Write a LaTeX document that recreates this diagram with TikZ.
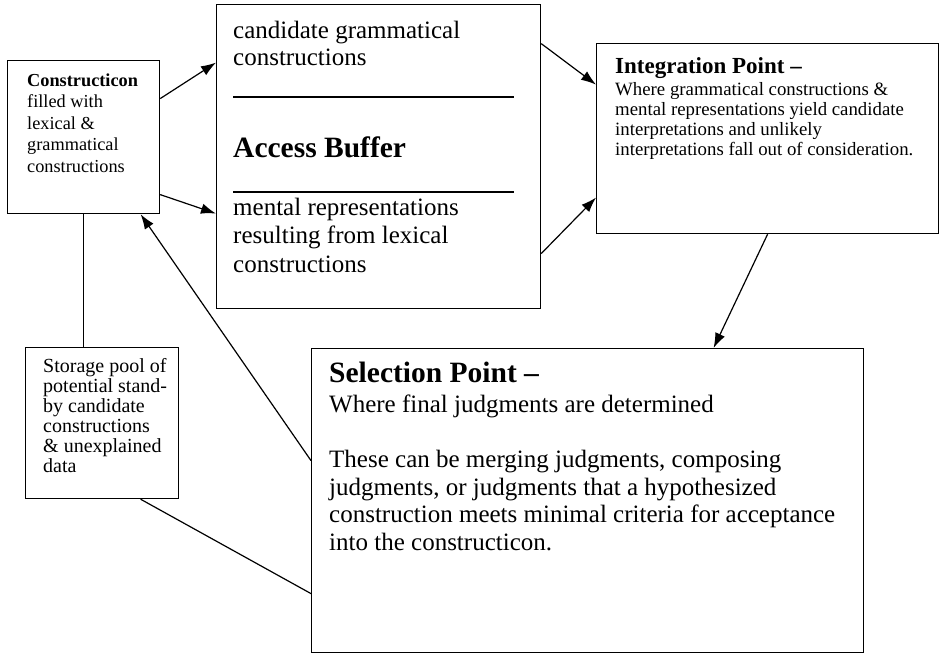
\documentclass[tikz,border=0pt]{standalone}
\usepackage{fontspec}
\setmainfont{Liberation Serif}
\usetikzlibrary{arrows,arrows.meta,positioning}

\begin{document}
\begin{tikzpicture}[x=1pt,y=-1pt,
  box/.style={draw=black,line width=1.2pt,inner sep=0pt,anchor=north west},
  txt/.style={anchor=base west,inner sep=0pt,align=left},
  arr/.style={-{Latex[length=15pt,width=10.5pt]},line width=1.2pt}]
   \useasboundingbox (0,0) rectangle (939,656);
   % boxes
   \node[box,minimum width=152pt,minimum height=153pt] (cons) at (7,60) {};
   \node[box,minimum width=324pt,minimum height=304pt] (acc) at (216,4) {};
   \node[box,minimum width=342pt,minimum height=190pt] (integ) at (596,43) {};
   \node[box,minimum width=153pt,minimum height=151pt] (stor) at (25,347) {};
   \node[box,minimum width=552pt,minimum height=304pt] (sel) at (311,348) {};
   % texts (placed at the baseline of their last line)
   \node[txt,font=\fontsize{18.3}{21.5}\selectfont] (constxt) at (27,172) {\textbf{Constructicon}\\filled with\\lexical \&\\grammatical\\constructions};
   \node[txt,font=\fontsize{25}{27}\selectfont] (candtxt) at (233,65) {candidate grammatical\\constructions};
   \node[txt,font=\fontsize{29.5}{30}\selectfont\bfseries] (acctxt) at (233,157) {Access Buffer};
   \node[txt,font=\fontsize{25}{28.5}\selectfont] (menttxt) at (233,272) {mental representations\\resulting from lexical\\constructions};
   \node[txt,font=\fontsize{23}{24}\selectfont\bfseries] (inthead) at (615,73) {Integration Point –};
   \node[txt,font=\fontsize{18.8}{20}\selectfont] (inttxt) at (615,155) {Where grammatical constructions \&\\mental representations yield candidate\\interpretations and unlikely\\interpretations fall out of consideration.};
   \node[txt,font=\fontsize{20}{20}\selectfont] (stortxt) at (43,472) {Storage pool of\\potential stand-\\by candidate\\constructions\\\& unexplained\\data};
   \node[txt,font=\fontsize{29.5}{30}\selectfont\bfseries] (selhead) at (329,382) {Selection Point –};
   \node[txt,font=\fontsize{25}{27.7}\selectfont] (seltxt) at (329,550.5) {Where final judgments are determined\\[27.7pt]These can be merging judgments, composing\\judgments, or judgments that a hypothesized\\construction meets minimal criteria for acceptance\\into the constructicon.};
   % dividers in the buffer
   \draw[line width=1.2pt] ([xshift=17pt,yshift=-93pt]acc.north west) -- ([xshift=-27pt,yshift=-93pt]acc.north east);
   \draw[line width=1.2pt] ([xshift=17pt,yshift=-188pt]acc.north west) -- ([xshift=-27pt,yshift=-188pt]acc.north east);
   % connectors
   \path [arr]([yshift=38.5pt]cons.east) edge ([yshift=94pt]acc.west);
   \path [arr]([yshift=-57.5pt]cons.east) edge ([yshift=-57pt]acc.west);
   \path [arr]([yshift=113pt]acc.east) edge ([yshift=54pt]integ.west);
   \path [arr]([yshift=-97pt]acc.east) edge ([yshift=-59pt]integ.west);
   \path [arr](integ.south) edge ([xshift=126pt]sel.north);
   \path [arr]([yshift=40pt]sel.west) edge ([xshift=57pt]cons.south);
   \path [-,line width=1.2pt](cons.south) edge ([xshift=-18.5pt]stor.north);
   \path [-,line width=1.2pt]([xshift=38.5pt]stor.south) edge ([yshift=-93pt]sel.west);
\end{tikzpicture}
\end{document}
